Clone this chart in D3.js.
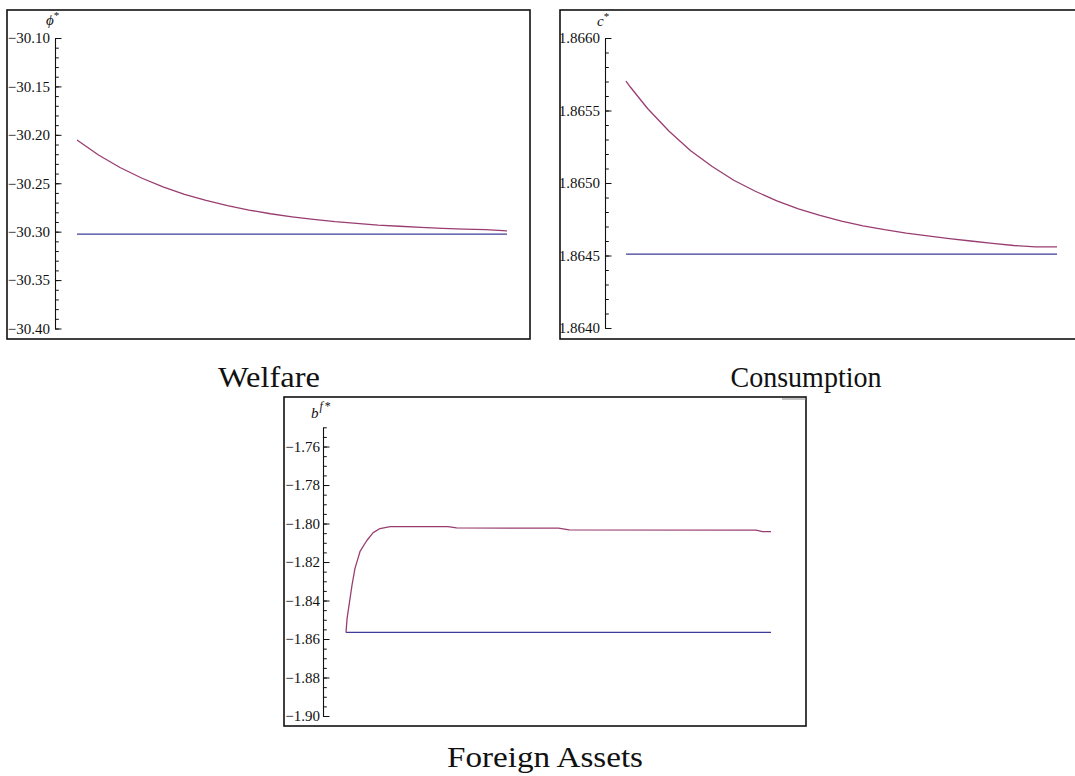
<!DOCTYPE html>
<html>
<head>
<meta charset="utf-8">
<script src="https://cdn.jsdelivr.net/npm/d3@7"></script>
<style>
  body { margin: 0; background: #fff; }
  svg { display: block; }
  text { font-family: "Liberation Serif", "Times New Roman", serif; fill: #111; }
</style>
</head>
<body>
<svg id="fig" width="1075" height="776"></svg>
<script>
// ---- Welfare (phi*) ----
const welfarePeriods = [0, 5, 10, 15, 20, 25, 30, 35, 40, 45, 50, 55, 60, 65, 70, 75, 80, 85, 90, 95, 100];
const welfarePath = [-30.2054, -30.2208, -30.2337, -30.2446, -30.2537, -30.2614, -30.2678, -30.2731,
  -30.2777, -30.2815, -30.2847, -30.2874, -30.2897, -30.2915, -30.2932, -30.2944, -30.2956,
  -30.2965, -30.2973, -30.2979, -30.2992];
const welfareSteady = -30.3025;
const welfareTicks = [-30.40, -30.35, -30.30, -30.25, -30.20, -30.15, -30.10];

// ---- Consumption (c*) ----
const consumptionPeriods = [0, 1, 5, 10, 15, 20, 25, 30, 35, 40, 45, 50, 55, 60, 65, 70, 75, 80, 85, 90, 95, 100];
const consumptionPath = [1.865703, 1.865662, 1.865514, 1.865357, 1.865223, 1.865114, 1.865019, 1.864943,
  1.864877, 1.864821, 1.864776, 1.864737, 1.864705, 1.864678, 1.864655, 1.864636, 1.864617,
  1.864600, 1.864583, 1.864569, 1.864559, 1.864559];
const consumptionSteady = 1.864510;
const consumptionTicks = [1.8640, 1.8645, 1.8650, 1.8655, 1.8660];

// ---- Foreign assets (b^f*) ----
const assetsPeriods = [0, 0.25, 1.4, 2.1, 2.8, 3.3, 4.9, 6.4, 8, 10.4, 24, 26, 50, 52.5, 96.5, 98, 100];
const assetsPath = [-1.8566, -1.8494, -1.8322, -1.8234, -1.8182, -1.8145, -1.8088, -1.8047, -1.8026,
  -1.8016, -1.8016, -1.8023, -1.8024, -1.8033, -1.8034, -1.8042, -1.8042];
const assetsSteady = -1.8566;
const assetsTicks = [-1.90, -1.88, -1.86, -1.84, -1.82, -1.80, -1.78, -1.76];

const panelTitles = ["Welfare", "Consumption", "Foreign Assets"];

const PATH_COLOR = "#993d71";
const STEADY_COLOR = "#3d3d99";

const svg = d3.select("#fig");

function drawPanel(opt) {
  const g = svg.append("g");

  // frame
  g.append("rect")
    .attr("x", opt.frame[0]).attr("y", opt.frame[1])
    .attr("width", opt.frame[2]).attr("height", opt.frame[3])
    .attr("fill", "none").attr("stroke", "#111").attr("stroke-width", 1.6);

  const x = d3.scaleLinear().domain([0, 100]).range(opt.xRange);
  const y = d3.scaleLinear().domain(opt.yDomain).range(opt.yRange);

  // minor ticks
  const minor = d3.range(0, Math.round((opt.yDomain[1] - opt.yDomain[0]) / opt.minorStep) + 1)
    .map(i => opt.yDomain[0] + i * opt.minorStep);
  g.append("g")
    .attr("transform", `translate(${opt.axisX},0)`)
    .call(d3.axisLeft(y).tickValues(minor).tickSize(-3.8).tickSizeOuter(0).tickFormat(""))
    .call(a => a.selectAll("line").attr("stroke", "#111").attr("stroke-width", 1))
    .call(a => a.select(".domain").attr("stroke", "#111").attr("stroke-width", 1.1));

  // major ticks with labels
  g.append("g")
    .attr("transform", `translate(${opt.axisX},0)`)
    .call(d3.axisLeft(y).tickValues(opt.ticks).tickSize(-6.5).tickSizeOuter(0)
      .tickPadding(opt.pad).tickFormat(d3.format(opt.fmt)))
    .call(a => a.select(".domain").remove())
    .call(a => a.selectAll("line").attr("stroke", "#111").attr("stroke-width", 1))
    .call(a => a.selectAll("text")
      .style("font-family", '"Liberation Serif", serif')
      .style("font-size", "15px").attr("fill", "#111"));

  const line = d3.line().x(d => x(d[0])).y(d => y(d[1]));

  // steady state reference
  g.append("path")
    .datum([[0, opt.steady], [100, opt.steady]])
    .attr("d", line).attr("fill", "none")
    .attr("stroke", STEADY_COLOR).attr("stroke-width", 1.2);

  // transition path
  g.append("path")
    .datum(opt.periods.map((t, i) => [t, opt.values[i]]))
    .attr("d", line).attr("fill", "none")
    .attr("stroke", PATH_COLOR).attr("stroke-width", 1.3)
    .attr("stroke-linejoin", "round");

  return g;
}

// Welfare panel
const p1 = drawPanel({
  frame: [7, 10, 523, 329], xRange: [77, 507], axisX: 55,
  yDomain: [-30.40, -30.10], yRange: [328.5, 38], minorStep: 0.01,
  ticks: welfareTicks, fmt: ".2f", pad: 5,
  periods: welfarePeriods, values: welfarePath, steady: welfareSteady
});
const t1 = p1.append("text").attr("x", 46).attr("y", 25).style("font-size", "15px");
t1.append("tspan").style("font-style", "italic").text("ϕ");
t1.append("tspan").attr("dy", -6).style("font-size", "11px").text("*");

// Consumption panel
const p2 = drawPanel({
  frame: [560, 10, 540, 329], xRange: [626, 1057], axisX: 605,
  yDomain: [1.8640, 1.8660], yRange: [328, 38], minorStep: 0.0001,
  ticks: consumptionTicks, fmt: ".4f", pad: 5,
  periods: consumptionPeriods, values: consumptionPath, steady: consumptionSteady
});
const t2 = p2.append("text").attr("x", 597).attr("y", 26).style("font-size", "15px");
t2.append("tspan").style("font-style", "italic").text("c");
t2.append("tspan").attr("dy", -6).style("font-size", "11px").text("*");

// Foreign assets panel
const p3 = drawPanel({
  frame: [284, 397, 522, 329], xRange: [346, 771], axisX: 323,
  yDomain: [-1.90, -1.75], yRange: [716, 427.3], minorStep: 0.005,
  ticks: assetsTicks, fmt: ".2f", pad: 3,
  periods: assetsPeriods, values: assetsPath, steady: assetsSteady
});
const t3 = p3.append("text").attr("x", 311).attr("y", 418).style("font-size", "15px");
t3.append("tspan").style("font-style", "italic").text("b");
t3.append("tspan").attr("dy", -8).attr("dx", 1).style("font-size", "12px").style("font-style", "italic").text("f");
t3.append("tspan").attr("dx", 2).style("font-size", "12px").text("*");
svg.append("line").attr("x1", 782).attr("x2", 806).attr("y1", 399).attr("y2", 399)
  .attr("stroke", "#888").attr("stroke-width", 1);

// captions
const captionPos = [[269, 387, 102], [806, 387, 151], [545, 767, 196]];
panelTitles.forEach((s, i) => {
  svg.append("text")
    .attr("x", captionPos[i][0]).attr("y", captionPos[i][1])
    .attr("text-anchor", "middle")
    .attr("textLength", captionPos[i][2]).attr("lengthAdjust", "spacingAndGlyphs")
    .style("font-size", "30px")
    .text(s);
});
</script>
</body>
</html>
